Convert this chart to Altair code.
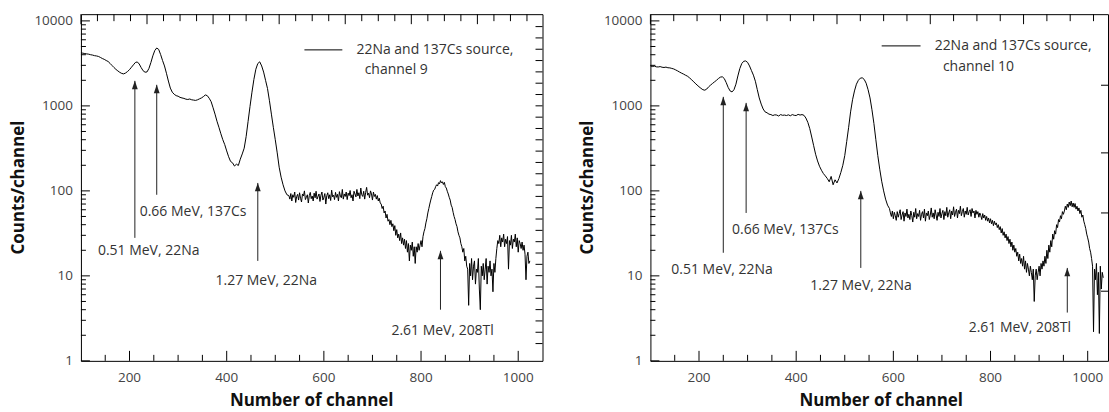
import math

import altair as alt
import pandas as pd

FONT = "Open Sans"
INK = "#222222"
LABEL_GREY = "#444444"
H = 347
PX_PER_CH = 462 / 950          # horizontal resolution shared by both panels

# ---------------------------------------------------------------------------
# Spectrum of detector channel 9.
# Smooth high-count part in 4-channel bins (100 ... 524),
# noisy low-count part in 2-channel bins (528 ... 1024).
# ---------------------------------------------------------------------------
smooth_ch9 = [
    4200, 4170, 4130, 4090, 4060, 4000, 3960, 3900, 3870, 3820,
    3720, 3610, 3530, 3420, 3330, 3160, 2990, 2830, 2690, 2580,
    2480, 2410, 2380, 2440, 2540, 2670, 2850, 3040, 3240, 3290,
    3110, 2820, 2590, 2490, 2510, 2760, 3240, 3880, 4480, 4800,
    4620, 4020, 3420, 2950, 2420, 1960, 1620, 1450, 1370, 1320,
    1300, 1260, 1240, 1225, 1200, 1190, 1205, 1180, 1170, 1160,
    1180, 1210, 1240, 1285, 1345, 1320, 1230, 1120, 950, 800,
    660, 560, 470, 400, 350, 295, 252, 222, 214, 196,
    206, 199, 236, 272, 318, 435, 655, 985, 1450, 2050,
    2700, 3150, 3300, 2950, 2500, 2000, 1600, 1150, 800, 560,
    400, 280, 190, 145, 118, 100, 90,
]
noisy_ch9 = [
    88, 80, 93, 76, 90, 84, 97, 73, 86, 91,
    78, 95, 82, 74, 92, 87, 100, 79, 84, 90,
    72, 88, 96, 81, 87, 76, 94, 83, 99, 80,
    86, 92, 75, 89, 97, 78, 84, 93, 70, 88,
    95, 81, 90, 77, 102, 85, 89, 79, 96, 84,
    91, 76, 98, 87, 83, 104, 80, 92, 86, 97,
    79, 94, 88, 101, 83, 90, 76, 99, 92, 85,
    104, 87, 95, 81, 108, 90, 86, 99, 80, 96,
    110, 89, 94, 83, 100, 92, 78, 97, 86, 91,
    80, 88, 76, 82, 72, 70, 62, 66, 55, 58,
    48, 53, 44, 46, 40, 45, 38, 41, 34, 39,
    30, 35, 28, 31, 26, 32, 24, 28, 23, 27,
    21, 26, 19, 24, 15, 23, 20, 25, 17, 22,
    14, 22, 19, 24, 20, 23, 26, 22, 29, 33,
    36, 42, 47, 55, 62, 70, 78, 86, 95, 102,
    104, 112, 118, 114, 125, 121, 132, 124, 128, 119,
    126, 112, 108, 99, 92, 84, 78, 68, 64, 56,
    50, 46, 41, 38, 33, 30, 28, 24, 22, 19,
    21, 15, 17, 13, 12, 4.5, 14, 10, 16, 9,
    13, 15, 8, 12, 11, 16, 7, 4, 13, 10,
    14, 9, 12, 16, 8, 13, 11, 15, 10, 12,
    6.5, 14, 11, 16, 21, 26, 24, 30, 22, 28,
    25, 31, 22, 27, 24, 29, 12, 26, 23, 30,
    21, 27, 25, 31, 22, 28, 19, 26, 24, 21,
    25, 20, 23, 18, 9, 17, 19, 14, 15,
]

# ---------------------------------------------------------------------------
# Spectrum of detector channel 10.
# 4-channel bins (100 ... 588), then 2-channel bins (592 ... 1032).
# ---------------------------------------------------------------------------
smooth_ch10 = [
    2960, 2900, 2940, 2880, 2870, 2900, 2850, 2830, 2860, 2810,
    2800, 2760, 2720, 2650, 2580, 2500, 2430, 2370, 2300, 2240,
    2150, 2050, 1950, 1850, 1760, 1680, 1610, 1550, 1530, 1580,
    1680, 1760, 1840, 1920, 2000, 2100, 2180, 2200, 2100, 1880,
    1650, 1500, 1460, 1550, 1800, 2250, 2750, 3150, 3350, 3380,
    3250, 2950, 2600, 2300, 1950, 1550, 1240, 1050, 920, 850,
    830, 800, 790, 770, 785, 780, 760, 790, 775, 780,
    770, 785, 765, 790, 775, 770, 795, 780, 790, 775,
    720, 640, 540, 430, 340, 270, 225, 195, 175, 160,
    150, 140, 128, 148, 118, 135, 124, 140, 165, 200,
    260, 380, 560, 850, 1180, 1500, 1800, 2000, 2120, 2140,
    2050, 1850, 1550, 1240, 900, 620, 400, 260, 180, 130,
    100, 80, 68,
]
noisy_ch10 = [
    62, 55, 50, 58, 47, 56, 51, 45, 57, 49,
    54, 60, 46, 52, 57, 44, 55, 50, 61, 48,
    53, 46, 58, 51, 43, 56, 49, 62, 47, 54,
    50, 59, 45, 53, 57, 48, 61, 44, 55, 51,
    58, 46, 52, 63, 49, 55, 47, 60, 52, 45,
    56, 50, 62, 48, 54, 59, 46, 57, 51, 64,
    49, 55, 60, 47, 58, 52, 65, 50, 56, 61,
    48, 59, 54, 66, 51, 57, 62, 49, 58, 53,
    64, 52, 57, 60, 50, 62, 55, 58, 48, 59,
    53, 57, 49, 55, 51, 46, 54, 48, 52, 45,
    50, 44, 48, 42, 47, 41, 45, 39, 44, 40,
    42, 37, 40, 35, 38, 32, 36, 30, 33, 28,
    31, 26, 29, 24, 27, 22, 25, 20, 23, 19,
    21, 17, 19, 15, 18, 14, 16, 13, 17, 12,
    15, 11, 14, 12, 10, 13, 11, 9, 12, 5,
    10, 12, 9, 11, 13, 10, 14, 12, 15, 13,
    17, 14, 20, 16, 23, 19, 26, 22, 31, 27,
    34, 31, 40, 37, 46, 43, 51, 47, 57, 53,
    58, 66, 60, 70, 64, 74, 67, 76, 65, 72,
    64, 71, 61, 66, 58, 63, 54, 59, 49, 52,
    44, 40, 36, 31, 28, 25, 21, 19, 16, 13,
    2.2, 12, 9, 14, 6, 11, 2.1, 13, 7, 11, 9.5,
]

# Gamma lines marked with arrows
peak_names = ["0.51 MeV, 22Na", "0.66 MeV, 137Cs", "1.27 MeV, 22Na", "2.61 MeV, 208Tl"]

# Arrow channel, arrow tip and tail (counts), label anchor (channel, counts)
arrow_ch_9 = [211, 256, 464, 840]
arrow_tip_9 = [1970, 1770, 124, 19.7]
arrow_tail_9 = [28, 90, 15, 4.0]
label_ch_9 = [135, 221, 377, 739]
label_cnt_9 = [19.7, 57, 8.7, 2.25]

arrow_ch_10 = [250, 297, 533, 958]
arrow_tip_10 = [1277, 1085, 100, 12.4]
arrow_tail_10 = [18.7, 55, 12.4, 3.7]
label_ch_10 = [143, 268, 429, 755]
label_cnt_10 = [11.8, 34.8, 7.6, 2.45]

# Legend entry: sample line span and text rows
legend_text_9 = ["22Na and 137Cs source,", "channel 9"]
legend_text_10 = ["22Na and 137Cs source,", "channel 10"]
legend_line_9 = ([560, 638], 4560)
legend_line_10 = ([576, 656], 5080)
legend_rows_9 = ([667, 684], [4560, 2650])
legend_rows_10 = ([685, 702], [5080, 2875])

# Secondary (top / right) frame ticks
top_step_9, top_major_9 = 34, 136
top_step_10, top_major_10 = 48, 192
side_ticks_9 = [10 ** (0.2034 + 0.1332 * k) for k in range(29)]
side_ticks_10 = [1750, 280, 55, 6.6]

# Axis titles
X_TITLE = "Number of channel"
Y_TITLE = "Counts/channel"

# Channel ranges shown by the two panels
X_DOMAIN_9 = [100, 1050]
X_DOMAIN_10 = [100, 1041.8]
Y_DOMAIN = [1, 12000]
X_MAJOR = [200, 400, 600, 800, 1000]
X_MINOR = [v for v in range(150, 1050, 50) if v % 200]
Y_MAJOR = [1, 10, 100, 1000, 10000]
Y_MINOR = [m * 10 ** e for e in range(4) for m in range(2, 10)]

PX_PER_DECADE = H / math.log10(Y_DOMAIN[1] / Y_DOMAIN[0])
YS = alt.Scale(type="log", domain=Y_DOMAIN, nice=False)


def Y(field):
    return alt.Y(field, type="quantitative", scale=YS, axis=None)


def spectrum_frame(smooth, noisy, noisy_start):
    ch = list(range(100, noisy_start, 4)) + list(range(noisy_start, noisy_start + 2 * len(noisy), 2))
    return pd.DataFrame({"ch": ch, "cnt": smooth + noisy})


def panel(spec, x_domain, a_ch, a_tip, a_tail, l_ch, l_cnt, leg_text, leg_line, leg_rows,
          top_step, top_major, side_ticks):
    W = round((x_domain[1] - x_domain[0]) * PX_PER_CH)
    xs = alt.Scale(domain=x_domain, nice=False, zero=False)

    def X(field):
        return alt.X(field, type="quantitative", scale=xs, axis=None)

    def x_ticks(values, side, length):
        # inward tick marks along the bottom or top edge, spanning `length` pixels
        factor = 10 ** (length / PX_PER_DECADE)
        if side == "bottom":
            lo, hi = Y_DOMAIN[0], Y_DOMAIN[0] * factor
        else:
            lo, hi = Y_DOMAIN[1] / factor, Y_DOMAIN[1]
        df = pd.DataFrame({"v": values, "lo": lo, "hi": hi})
        return alt.Chart(df).mark_rule(color="black", strokeWidth=1).encode(
            x=X("v"), y=Y("lo"), y2="hi:Q")

    def y_ticks(values, side, length):
        # inward tick marks along the left or right edge, spanning `length` pixels
        span = length / PX_PER_CH
        if side == "left":
            a, b = x_domain[0], x_domain[0] + span
        else:
            a, b = x_domain[1] - span, x_domain[1]
        df = pd.DataFrame({"v": values, "a": a, "b": b})
        return alt.Chart(df).mark_rule(color="black", strokeWidth=1).encode(
            y=Y("v"), x=X("a"), x2="b:Q")

    top_all = [v for v in range(100, 1050, top_step) if v <= x_domain[1]]
    top_long = [v for v in top_all if (v - 100) % top_major == 0]
    top_short = [v for v in top_all if (v - 100) % top_major != 0]

    line = alt.Chart(spec).mark_line(color="black", strokeWidth=1).encode(
        x=X("ch"), y=Y("cnt"))

    ticks = [
        x_ticks(X_MAJOR, "bottom", 10), x_ticks(X_MINOR, "bottom", 6),
        x_ticks(top_long, "top", 10), x_ticks(top_short, "top", 7),
        y_ticks(Y_MAJOR, "left", 9), y_ticks(Y_MINOR, "left", 5),
        y_ticks(side_ticks, "right", 7),
    ]

    # tick numbers and axis titles
    xl = alt.Chart(pd.DataFrame({"v": X_MAJOR, "t": [str(v) for v in X_MAJOR]})).mark_text(
        align="center", baseline="middle", font=FONT, fontSize=13.5, color=LABEL_GREY,
    ).encode(x=X("v"), y=alt.value(H + 17), text="t:N")
    yl = alt.Chart(pd.DataFrame({"v": Y_MAJOR, "t": [str(v) for v in Y_MAJOR]})).mark_text(
        align="right", baseline="middle", font=FONT, fontSize=13.5, color=LABEL_GREY,
    ).encode(y=Y("v"), x=alt.value(-8), text="t:N")
    xt = alt.Chart(pd.DataFrame({"t": [X_TITLE]})).mark_text(
        align="center", baseline="middle", font=FONT, fontSize=17, fontWeight="bold",
        color="#111111",
    ).encode(x=alt.value(231), y=alt.value(H + 40), text="t:N")
    yt = alt.Chart(pd.DataFrame({"t": [Y_TITLE]})).mark_text(
        align="center", baseline="middle", font=FONT, fontSize=17, fontWeight="bold",
        color="#111111", angle=270,
    ).encode(x=alt.value(-62), y=alt.value(H / 2), text="t:N")

    arrows = pd.DataFrame({
        "ch": a_ch, "tip": a_tip, "tail": a_tail,
        "lab_ch": l_ch, "lab_cnt": l_cnt, "name": peak_names,
    })
    shafts = alt.Chart(arrows).mark_rule(color=INK, strokeWidth=1).encode(
        x=X("ch"), y=Y("tail"), y2="tip:Q")
    heads = alt.Chart(arrows).mark_point(
        shape="M0,0L0.9,2.6L-0.9,2.6Z", filled=True, size=42,
        color=INK, opacity=1, strokeWidth=0,
    ).encode(x=X("ch"), y=Y("tip"))
    names = alt.Chart(arrows).mark_text(
        align="left", baseline="middle", font=FONT, fontSize=14, color="#333333",
    ).encode(x=X("lab_ch"), y=Y("lab_cnt"), text="name:N")

    leg_l = pd.DataFrame({"x0": [leg_line[0][0]], "x1": [leg_line[0][1]], "y": [leg_line[1]]})
    legend_stroke = alt.Chart(leg_l).mark_rule(color="black", strokeWidth=1).encode(
        x=X("x0"), x2="x1:Q", y=Y("y"))
    leg_t = pd.DataFrame({"x": leg_rows[0], "y": leg_rows[1], "t": leg_text})
    legend_label = alt.Chart(leg_t).mark_text(
        align="left", baseline="middle", font=FONT, fontSize=14, color="#333333",
    ).encode(x=X("x"), y=Y("y"), text="t:N")

    return alt.layer(
        line, *ticks, xl, yl, xt, yt, shafts, heads, names, legend_stroke, legend_label,
    ).properties(width=W, height=H)


left = panel(spectrum_frame(smooth_ch9, noisy_ch9, 528), X_DOMAIN_9,
             arrow_ch_9, arrow_tip_9, arrow_tail_9, label_ch_9, label_cnt_9,
             legend_text_9, legend_line_9, legend_rows_9, top_step_9, top_major_9, side_ticks_9)
right = panel(spectrum_frame(smooth_ch10, noisy_ch10, 592), X_DOMAIN_10,
              arrow_ch_10, arrow_tip_10, arrow_tail_10, label_ch_10, label_cnt_10,
              legend_text_10, legend_line_10, legend_rows_10, top_step_10, top_major_10, side_ticks_10)

chart = alt.hconcat(left, right, spacing=35).properties(
    padding={"left": 9, "top": 13, "right": 0, "bottom": 0},
    background="white",
).configure_view(stroke="black", strokeWidth=1)

chart.save("out.html", embed_options={"renderer": "svg", "actions": False})
